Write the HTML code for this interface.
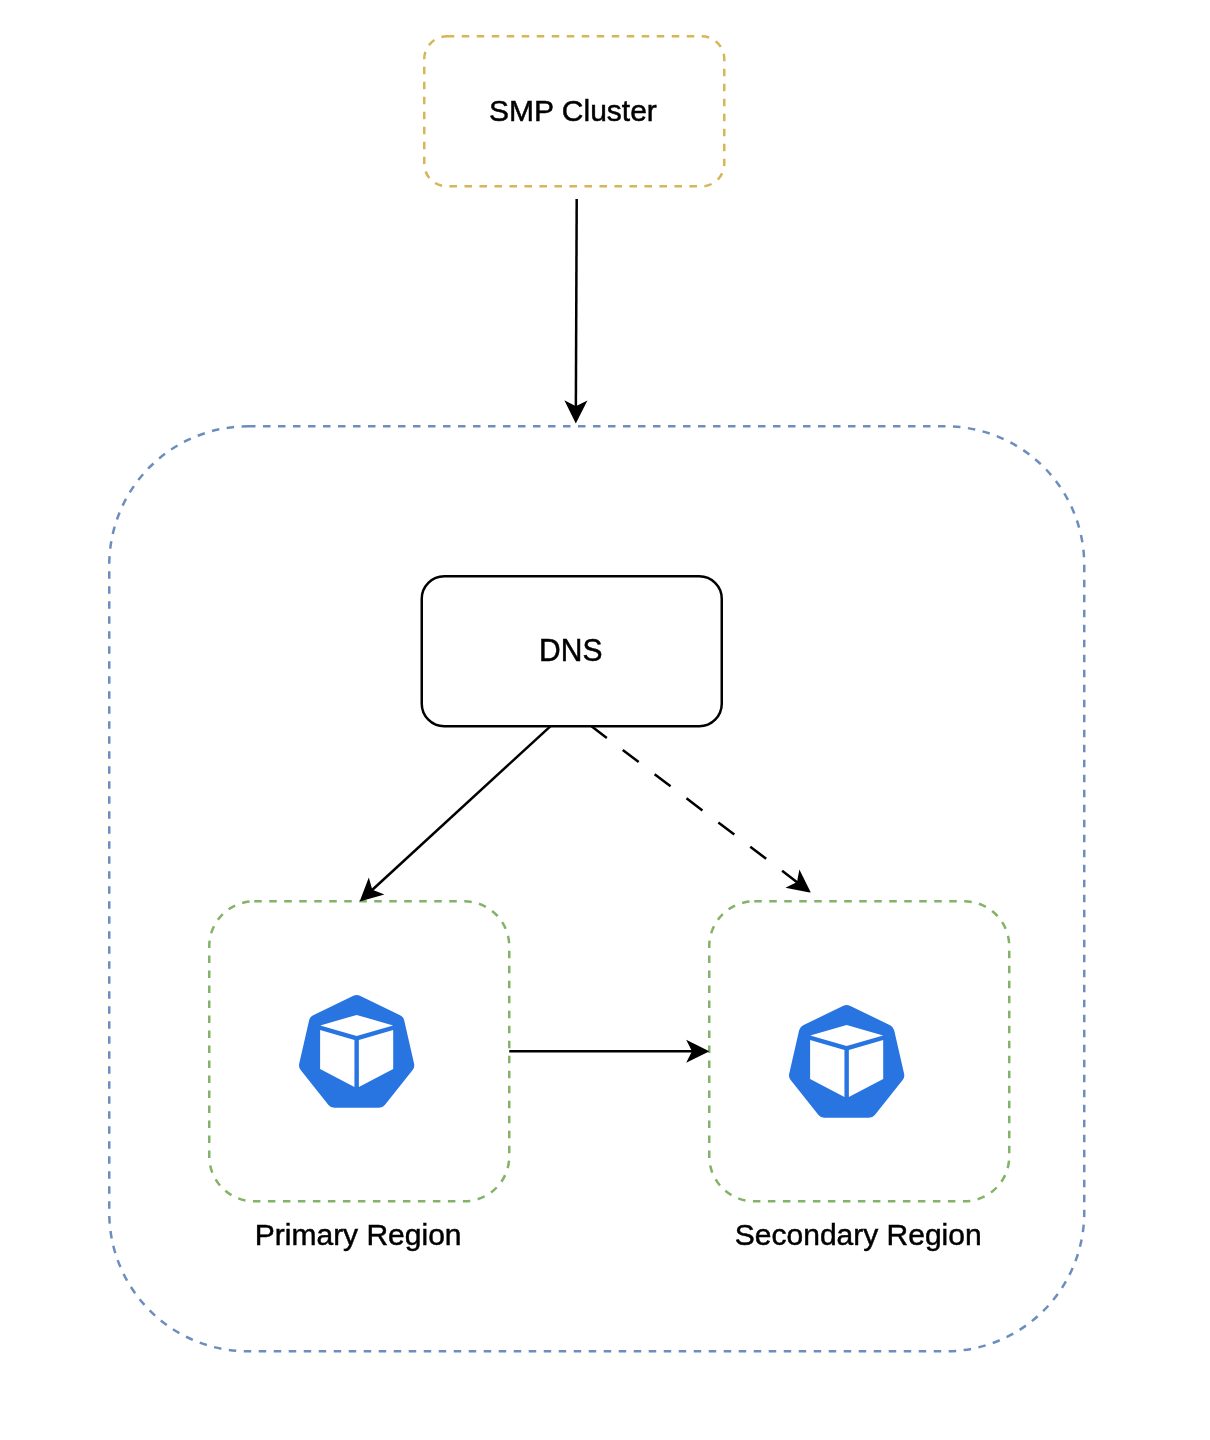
<!DOCTYPE html>
<html><head><meta charset="utf-8"><style>
html,body{margin:0;padding:0;background:#fff;width:1210px;height:1440px;overflow:hidden}
svg{position:absolute;left:0;top:0;will-change:transform}
text{font-family:"Liberation Sans",sans-serif;font-size:30px;fill:#000;stroke:#000;stroke-width:0.5px}
</style></head><body>
<svg width="1210" height="1440" viewBox="0 0 1210 1440">
<rect x="424.25" y="36.30" width="300.00" height="150.00" rx="22.50" ry="22.50" fill="none" stroke="#d6b656" stroke-width="2.5" stroke-miterlimit="10" stroke-dasharray="7.5 7.5"/><rect x="109.25" y="426.30" width="975.00" height="925.00" rx="138.75" ry="138.75" fill="none" stroke="#6c8ebf" stroke-width="2.5" stroke-miterlimit="10" stroke-dasharray="7.5 7.5"/><rect x="421.75" y="576.30" width="300.00" height="150.00" rx="22.50" ry="22.50" fill="none" stroke="#000000" stroke-width="2.5" stroke-miterlimit="10"/><rect x="209.25" y="901.30" width="300.00" height="300.00" rx="45.00" ry="45.00" fill="none" stroke="#82b366" stroke-width="2.5" stroke-miterlimit="10" stroke-dasharray="7.5 7.5"/><rect x="709.25" y="901.30" width="300.00" height="300.00" rx="45.00" ry="45.00" fill="none" stroke="#82b366" stroke-width="2.5" stroke-miterlimit="10" stroke-dasharray="7.5 7.5"/><path d="M576.70,198.90 L575.86,407.58" fill="none" stroke="#000" stroke-width="2.5" stroke-miterlimit="10"/><path d="M575.81,420.71 L567.13,403.17 L575.86,407.58 L584.63,403.24 Z" fill="#000" stroke="#000" stroke-width="2.5" stroke-miterlimit="10"/><path d="M550.30,726.30 L371.32,890.73" fill="none" stroke="#000" stroke-width="2.5" stroke-miterlimit="10"/><path d="M361.66,899.61 L368.63,881.33 L371.32,890.73 L380.47,894.21 Z" fill="#000" stroke="#000" stroke-width="2.5" stroke-miterlimit="10"/><path d="M591.50,726.30 L798.11,882.98" fill="none" stroke="#000" stroke-width="2.5" stroke-miterlimit="10" stroke-dasharray="20 20" stroke-dashoffset="0.78"/><path d="M808.57,890.91 L789.34,887.31 L798.11,882.98 L799.92,873.36 Z" fill="#000" stroke="#000" stroke-width="2.5" stroke-miterlimit="10"/><path d="M509.25,1051.30 L693.33,1051.30" fill="none" stroke="#000" stroke-width="2.5" stroke-miterlimit="10"/><path d="M706.46,1051.30 L688.96,1060.05 L693.33,1051.30 L688.96,1042.55 Z" fill="#000" stroke="#000" stroke-width="2.5" stroke-miterlimit="10"/>
<g><path d="M353.40,995.82 A7.5,7.5 0 0 1 359.90,995.82 L400.11,1015.18 A7.5,7.5 0 0 1 404.17,1020.27 L414.10,1063.77 A7.5,7.5 0 0 1 412.65,1070.12 L384.83,1105.01 A7.5,7.5 0 0 1 378.96,1107.83 L334.34,1107.83 A7.5,7.5 0 0 1 328.47,1105.01 L300.65,1070.12 A7.5,7.5 0 0 1 299.20,1063.77 L309.13,1020.27 A7.5,7.5 0 0 1 313.19,1015.18 Z" fill="#2875e2"/><polygon points="356.65,1014.9 393.1,1025.6 356.65,1036.1 320.2,1025.6" fill="#fff"/><polygon points="320.1,1029.9 354.45,1040.1 354.45,1087.0 320.1,1068.9" fill="#fff"/><polygon points="358.85,1040.1 393.2,1029.9 393.2,1068.9 358.85,1087.0" fill="#fff"/></g>
<g transform="translate(490,10)"><path d="M353.40,995.82 A7.5,7.5 0 0 1 359.90,995.82 L400.11,1015.18 A7.5,7.5 0 0 1 404.17,1020.27 L414.10,1063.77 A7.5,7.5 0 0 1 412.65,1070.12 L384.83,1105.01 A7.5,7.5 0 0 1 378.96,1107.83 L334.34,1107.83 A7.5,7.5 0 0 1 328.47,1105.01 L300.65,1070.12 A7.5,7.5 0 0 1 299.20,1063.77 L309.13,1020.27 A7.5,7.5 0 0 1 313.19,1015.18 Z" fill="#2875e2"/><polygon points="356.65,1014.9 393.1,1025.6 356.65,1036.1 320.2,1025.6" fill="#fff"/><polygon points="320.1,1029.9 354.45,1040.1 354.45,1087.0 320.1,1068.9" fill="#fff"/><polygon points="358.85,1040.1 393.2,1029.9 393.2,1068.9 358.85,1087.0" fill="#fff"/></g>
<text transform="translate(572.95,120.90) scale(1,1.01)" text-anchor="middle">SMP Cluster</text><text transform="translate(570.75,660.60) scale(1,1.07)" text-anchor="middle">DNS</text><text transform="translate(358.15,1245.00) scale(1,0.99)" text-anchor="middle">Primary Region</text><text transform="translate(858.25,1245.10) scale(1,0.99)" text-anchor="middle">Secondary Region</text>
</svg>
</body></html>
